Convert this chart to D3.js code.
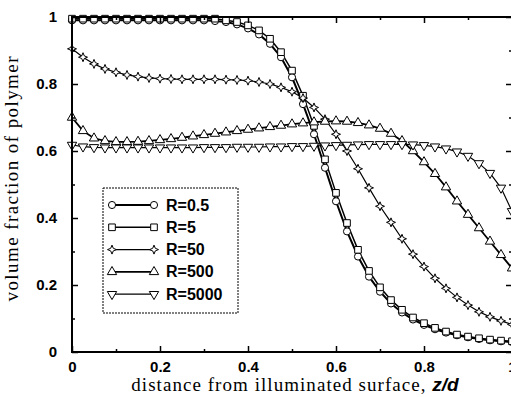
<!DOCTYPE html>
<html>
<head>
<meta charset="utf-8">
<script src="https://cdn.jsdelivr.net/npm/d3@7"></script>
<style>
  body { margin: 0; background: #fff; }
  svg { display: block; }
</style>
</head>
<body>
<svg id="mysvg"></svg>
<script>
// distance from illuminated surface, z/d
const zd = [0, 0.025, 0.05, 0.075, 0.1, 0.125, 0.15, 0.175, 0.2, 0.225,
    0.25, 0.275, 0.3, 0.325, 0.35, 0.375, 0.4, 0.425, 0.45, 0.475,
    0.5, 0.525, 0.55, 0.575, 0.6, 0.625, 0.65, 0.675, 0.7, 0.725,
    0.75, 0.775, 0.8, 0.825, 0.85, 0.875, 0.9, 0.925, 0.95, 0.975, 1];

// volume fraction of polymer for each R
const phiR05 = [0.99, 0.99, 0.99, 0.99, 0.99, 0.99, 0.99, 0.99, 0.99, 0.99,
    0.99, 0.99, 0.99, 0.988, 0.985, 0.978, 0.966, 0.948, 0.92, 0.88,
    0.82, 0.74, 0.65, 0.55, 0.45, 0.36, 0.285, 0.225, 0.18, 0.145,
    0.118, 0.097, 0.081, 0.068, 0.058, 0.05, 0.044, 0.039, 0.035, 0.032, 0.03];
const phiR5 = [0.995, 0.995, 0.995, 0.995, 0.995, 0.995, 0.995, 0.995, 0.995, 0.995,
    0.995, 0.995, 0.995, 0.995, 0.99, 0.985, 0.975, 0.96, 0.935, 0.895,
    0.84, 0.765, 0.675, 0.575, 0.475, 0.385, 0.305, 0.242, 0.193, 0.155,
    0.126, 0.103, 0.086, 0.072, 0.061, 0.052, 0.046, 0.041, 0.037, 0.034, 0.032];
const phiR50 = [0.905, 0.88, 0.86, 0.845, 0.835, 0.827, 0.822, 0.818, 0.816, 0.815,
    0.814, 0.814, 0.814, 0.814, 0.813, 0.812, 0.81, 0.806, 0.8, 0.79,
    0.777, 0.758, 0.73, 0.695, 0.65, 0.6, 0.547, 0.49, 0.435, 0.387,
    0.338, 0.292, 0.255, 0.22, 0.19, 0.163, 0.14, 0.12, 0.105, 0.093, 0.082];
const phiR500 = [0.7, 0.66, 0.638, 0.63, 0.627, 0.627, 0.628, 0.63, 0.633, 0.636,
    0.64, 0.644, 0.648, 0.652, 0.656, 0.66, 0.664, 0.668, 0.672, 0.676,
    0.68, 0.683, 0.686, 0.688, 0.689, 0.688, 0.684, 0.677, 0.667, 0.652,
    0.63, 0.6, 0.567, 0.532, 0.492, 0.45, 0.41, 0.37, 0.33, 0.29, 0.25];
const phiR5000 = [0.618, 0.613, 0.611, 0.61, 0.61, 0.61, 0.61, 0.61, 0.61, 0.61,
    0.61, 0.61, 0.611, 0.611, 0.611, 0.612, 0.612, 0.612, 0.613, 0.613,
    0.614, 0.614, 0.615, 0.616, 0.617, 0.618, 0.619, 0.62, 0.62, 0.62,
    0.62, 0.619, 0.617, 0.613, 0.607, 0.598, 0.585, 0.563, 0.534, 0.49, 0.42];

const seriesNames = ["R=0.5", "R=5", "R=50", "R=500", "R=5000"];
const xTicks = [0, 0.2, 0.4, 0.6, 0.8, 1];
const yTicks = [0, 0.2, 0.4, 0.6, 0.8, 1];

const w = 511, h = 397;
const margin = {left: 72, right: 512, top: 17, bottom: 352};

const series = [
    {name: seriesNames[0], values: phiR05, marker: "circle", width: 2},
    {name: seriesNames[1], values: phiR5, marker: "square", width: 1.5},
    {name: seriesNames[2], values: phiR50, marker: "star", width: 1.2},
    {name: seriesNames[3], values: phiR500, marker: "up", width: 1.8},
    {name: seriesNames[4], values: phiR5000, marker: "down", width: 1.2}
];

const xScale = d3.scaleLinear().domain([0, 1]).range([margin.left, margin.right]);
const yScale = d3.scaleLinear().domain([0, 1]).range([margin.bottom, margin.top]);

const svg = d3.select("#mysvg")
    .attr("width", w)
    .attr("height", h)
    .style("font-family", "'Liberation Sans', Arial, sans-serif");

// marker shapes
function markerPath(type) {
    if (type === "circle") return d3.symbol(d3.symbolCircle, 40)();
    if (type === "square") return d3.symbol(d3.symbolSquare, 44)();
    if (type === "up") return d3.symbol(d3.symbolTriangle, 38)();
    if (type === "down") return d3.symbol(d3.symbolTriangle, 38)();
    // four point star
    return "M0,-4.5L1.3,-1.3L4.5,0L1.3,1.3L0,4.5L-1.3,1.3L-4.5,0L-1.3,-1.3Z";
}
function markerRotate(type) {
    return type === "down" ? " rotate(180)" : "";
}

// curves
const line = d3.line()
    .x((d, i) => xScale(zd[i]))
    .y(d => yScale(d));

series.forEach(s => {
    svg.append("path")
        .datum(s.values)
        .attr("fill", "none")
        .attr("stroke", "#000")
        .attr("stroke-width", s.width)
        .attr("d", line);
});

series.forEach(s => {
    svg.append("g").selectAll("path")
        .data(s.values)
        .enter().append("path")
        .attr("d", markerPath(s.marker))
        .attr("transform", (d, i) => "translate(" + xScale(zd[i]) + "," + yScale(d) + ")" + markerRotate(s.marker))
        .attr("fill", "#fff")
        .attr("stroke", "#000")
        .attr("stroke-width", 1);
});

// frame
svg.append("rect")
    .attr("x", margin.left)
    .attr("y", margin.top)
    .attr("width", margin.right - margin.left)
    .attr("height", margin.bottom - margin.top)
    .attr("fill", "none")
    .attr("stroke", "#000")
    .attr("stroke-width", 2);

const minorTicks = [0.1, 0.3, 0.5, 0.7, 0.9];

// bottom axis
svg.append("g")
    .attr("transform", "translate(0," + margin.bottom + ")")
    .call(d3.axisBottom(xScale).tickValues(xTicks).tickSize(-6).tickPadding(9).tickFormat(d3.format("~g")));
svg.append("g")
    .attr("transform", "translate(0," + margin.bottom + ")")
    .call(d3.axisBottom(xScale).tickValues(minorTicks).tickSize(-3).tickFormat(""));
// top axis
svg.append("g")
    .attr("transform", "translate(0," + margin.top + ")")
    .call(d3.axisTop(xScale).tickValues(xTicks).tickSize(-6).tickFormat(""));
svg.append("g")
    .attr("transform", "translate(0," + margin.top + ")")
    .call(d3.axisTop(xScale).tickValues(minorTicks).tickSize(-3).tickFormat(""));
// left axis
svg.append("g")
    .attr("transform", "translate(" + margin.left + ",0)")
    .call(d3.axisLeft(yScale).tickValues(yTicks).tickSize(-6).tickPadding(15).tickFormat(d3.format("~g")));
svg.append("g")
    .attr("transform", "translate(" + margin.left + ",0)")
    .call(d3.axisLeft(yScale).tickValues(minorTicks).tickSize(-3).tickFormat(""));
// right axis
svg.append("g")
    .attr("transform", "translate(" + margin.right + ",0)")
    .call(d3.axisRight(yScale).tickValues(yTicks).tickSize(-6).tickFormat(""));
svg.append("g")
    .attr("transform", "translate(" + margin.right + ",0)")
    .call(d3.axisRight(yScale).tickValues(minorTicks).tickSize(-3).tickFormat(""));

svg.selectAll(".domain").remove();
svg.selectAll(".tick line").attr("stroke", "#000").attr("stroke-width", 1.5);
svg.selectAll(".tick text")
    .attr("fill", "#000")
    .style("font-family", "'Liberation Sans', Arial, sans-serif")
    .style("font-weight", "bold")
    .style("font-size", "15px");

// axis titles
svg.append("text")
    .attr("transform", "translate(18,179) rotate(-90)")
    .attr("text-anchor", "middle")
    .attr("textLength", 245)
    .attr("lengthAdjust", "spacing")
    .style("font-family", "'Liberation Serif', 'Times New Roman', serif")
    .style("font-size", "19px")
    .text("volume fraction of polymer");

const xTitle = svg.append("text")
    .attr("x", 295)
    .attr("y", 391)
    .attr("text-anchor", "middle")
    .style("font-family", "'Liberation Serif', 'Times New Roman', serif")
    .style("font-size", "19px");
xTitle.append("tspan")
    .attr("textLength", 300)
    .attr("lengthAdjust", "spacing")
    .text("distance from illuminated surface, ");
xTitle.append("tspan")
    .style("font-family", "'Liberation Sans', Arial, sans-serif")
    .style("font-weight", "bold")
    .style("font-style", "italic")
    .text("z/d");

// legend
const legend = svg.append("g");
legend.append("rect")
    .attr("x", 103)
    .attr("y", 188)
    .attr("width", 135)
    .attr("height", 125)
    .attr("fill", "#fff")
    .attr("stroke", "#000")
    .attr("stroke-width", 1)
    .attr("stroke-dasharray", "2,1");

const rows = legend.selectAll(".row")
    .data(series)
    .enter().append("g")
    .attr("class", "row")
    .attr("transform", (d, i) => "translate(0," + (205 + i * 22.3) + ")");

rows.append("line")
    .attr("x1", 112)
    .attr("x2", 154)
    .attr("stroke", "#000")
    .attr("stroke-width", d => d.width);

rows.selectAll(".mk")
    .data(d => [[112, d], [154, d]])
    .enter().append("path")
    .attr("class", "mk")
    .attr("d", d => markerPath(d[1].marker))
    .attr("transform", d => "translate(" + d[0] + ",0)" + markerRotate(d[1].marker))
    .attr("fill", "#fff")
    .attr("stroke", "#000");

rows.append("text")
    .attr("x", 166)
    .attr("y", 5.5)
    .style("font-weight", "bold")
    .style("font-size", "16px")
    .text(d => d.name);
</script>
</body>
</html>
